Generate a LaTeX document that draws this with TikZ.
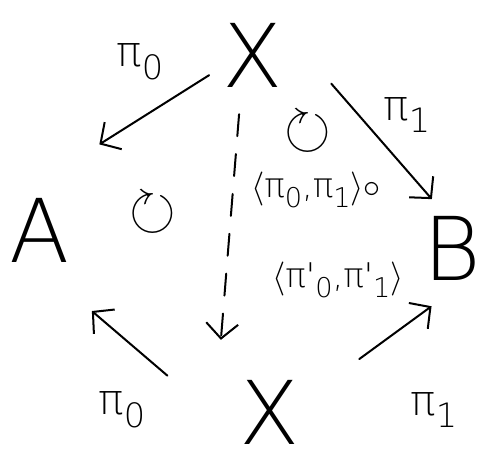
\RequirePackage{fix-cm}
\documentclass[tikz,border=0pt]{standalone}
\usepackage{amssymb}
\usepackage{fontspec}
\newfontfamily\hand{DejaVu Sans ExtraLight}
\usetikzlibrary{arrows.meta}
\newcommand{\idx}[1]{\raisebox{-0.3em}{\scalebox{0.8}{#1}}}
\tikzset{
  obj/.style={inner sep=0pt, font=\hand\fontsize{88}{88}\selectfont},
  lbl/.style={inner sep=0pt, font=\hand\fontsize{42}{42}\selectfont},
  comp/.style={inner sep=0pt, font=\hand\fontsize{34}{34}\selectfont},
  rot/.style={inner sep=0pt, font=\fontsize{60}{60}\selectfont},
  %
  arr/.style={draw, line width=2pt, line cap=round,
              -{Straight Barb[length=15pt, width=32pt, line width=2pt]}},
  dasharr/.style={arr, dash pattern=on 22pt off 18pt},
}
\begin{document}
\begin{tikzpicture}[x=1pt, y=-1pt]
\useasboundingbox (0,0) rectangle (483,466);

% objects
\node[obj] (Xt) at (253,55) {X};
\node[obj] (A) at (40,230) {A};
\node[obj] (B) at (452,248) {B};
\node[obj] (Xb) at (270,412) {X};

% projections
\draw[arr, shorten <=16pt, shorten >=100pt] (Xt.201) -- (A.128);
\draw[arr, shorten <=73pt, shorten >=22pt] (Xt.41) -- (B.100);
\draw[arr, shorten <=95pt, shorten >=75pt] (Xb.220) -- (A.261);
\draw[arr, shorten <=73pt, shorten >=44pt] (Xb.18) -- (B.295);
% the composite
\draw[dasharr, shorten <=27pt, shorten >=40pt] (Xt.250) -- ([xshift=-22pt]Xb.north west);

% labels
\node[lbl] (p0t) at (140,62) {π\idx{0}};
\node[lbl] (p1t) at (407,115) {π\idx{1}};
\node[lbl] (p0b) at (122,410) {π\idx{0}};
\node[lbl] (p1b) at (434,410) {π\idx{1}};
\node[comp] (pairtop) at (316,190) {$\langle$π\idx{0},π\idx{1}$\rangle\circ$};
\node[comp] (pairbot) at (338,280) {$\langle$π'\idx{0},π'\idx{1}$\rangle$};
\node[rot] (c1) at (308,132) {$\circlearrowright$};
\node[rot] (c2) at (153,213) {$\circlearrowright$};

\end{tikzpicture}
\end{document}
